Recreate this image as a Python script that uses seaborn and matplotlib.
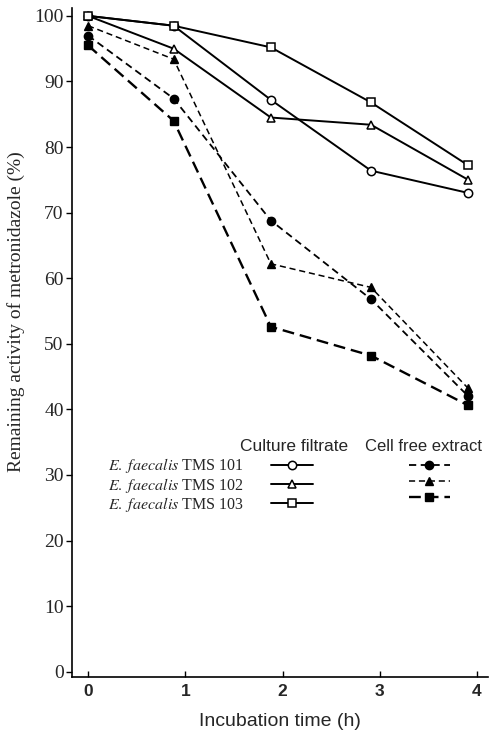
import matplotlib
matplotlib.use("Agg")
import matplotlib.pyplot as plt
import seaborn as sns

# ---- data ----
hours = [0, 0.88, 1.88, 2.91, 3.91]
strains = ["TMS 101", "TMS 102", "TMS 103"]

culture_101 = [100.0, 98.5, 87.2, 76.4, 73.0]
culture_102 = [100.0, 95.0, 84.5, 83.4, 75.0]
culture_103 = [100.0, 98.5, 95.2, 86.8, 77.2]

extract_101 = [97.0, 87.4, 68.8, 56.8, 42.0]
extract_102 = [98.5, 93.4, 62.2, 58.6, 43.2]
extract_103 = [95.5, 84.0, 52.6, 48.2, 40.6]

x_ticks = [0, 1, 2, 3, 4]
y_ticks = [0, 10, 20, 30, 40, 50, 60, 70, 80, 90, 100]

culture = {"TMS 101": culture_101, "TMS 102": culture_102, "TMS 103": culture_103}
extract = {"TMS 101": extract_101, "TMS 102": extract_102, "TMS 103": extract_103}
markers = {"TMS 101": "o", "TMS 102": "^", "TMS 103": "s"}
msize = {"TMS 101": 6.0, "TMS 102": 5.5, "TMS 103": 5.5}
extract_dash = {"TMS 101": (0, (4, 2.5)), "TMS 102": (0, (4, 2.5)), "TMS 103": (0, (5, 2.5))}
extract_lw = {"TMS 101": 1.3, "TMS 102": 1.1, "TMS 103": 1.7}

sns.set_theme(style="ticks")
plt.rcParams["font.family"] = ["Liberation Serif", "DejaVu Serif"]
plt.rcParams["mathtext.fontset"] = "stix"

fig = plt.figure(figsize=(4.97, 7.31), dpi=100)
ax = fig.add_axes([72 / 497, 1 - 677 / 731, 416 / 497, 669 / 731])

cf_handles, ce_handles = [], []
for s in strains:
    sns.lineplot(x=hours, y=culture[s], ax=ax, color="black", lw=1.4,
                 marker=markers[s], markersize=msize[s], markerfacecolor="white",
                 markeredgecolor="black", markeredgewidth=1.1,
                 errorbar=None, legend=False)
    cf_handles.append(ax.lines[-1])
for s in strains:
    sns.lineplot(x=hours, y=extract[s], ax=ax, color="black", lw=extract_lw[s],
                 linestyle=extract_dash[s],
                 marker=markers[s], markersize=msize[s], markerfacecolor="black",
                 markeredgecolor="black", markeredgewidth=1.0,
                 errorbar=None, legend=False)
    ce_handles.append(ax.lines[-1])

ax.set_xlim(-0.165, 4.113)
ax.set_ylim(-0.8, 101.2)
ax.set_xticks(x_ticks)
ax.set_yticks(y_ticks)
ax.tick_params(axis="x", direction="in", length=4, width=1, labelsize=12.5, pad=5, color="black")
ax.tick_params(axis="y", direction="out", length=4, width=1, labelsize=14, pad=2, color="black")
for lbl in ax.get_xticklabels():
    lbl.set_family("Liberation Sans")
    lbl.set_fontweight("bold")

sns.despine(ax=ax)
for sp in ["left", "bottom"]:
    ax.spines[sp].set_color("black")
    ax.spines[sp].set_linewidth(1.2)

ax.set_ylabel("Remaining activity of metronidazole (%)", fontsize=14)
ax.yaxis.set_label_coords(-0.113, 0.546)
ax.set_xlabel("Incubation time (h)", family="Liberation Sans", fontsize=14, labelpad=10)

labels = [r"$\mathit{E.\ faecalis}$ " + s for s in strains] + ["", "", ""]
ax.legend(cf_handles + ce_handles, labels, ncol=2, markerfirst=False, frameon=False,
          loc="upper left", bbox_to_anchor=(0.087, 0.33), borderaxespad=0, borderpad=0,
          handlelength=2.6, handletextpad=1.7, columnspacing=4.3, labelspacing=0.02,
          fontsize=11.5)

ax.text(0.534, 0.344, "Culture filtrate", transform=ax.transAxes, ha="center", va="center",
        family="Liberation Sans", fontsize=12.5)
ax.text(0.844, 0.344, "Cell free extract", transform=ax.transAxes, ha="center", va="center",
        family="Liberation Sans", fontsize=12)

fig.savefig("out.png", dpi=100)
